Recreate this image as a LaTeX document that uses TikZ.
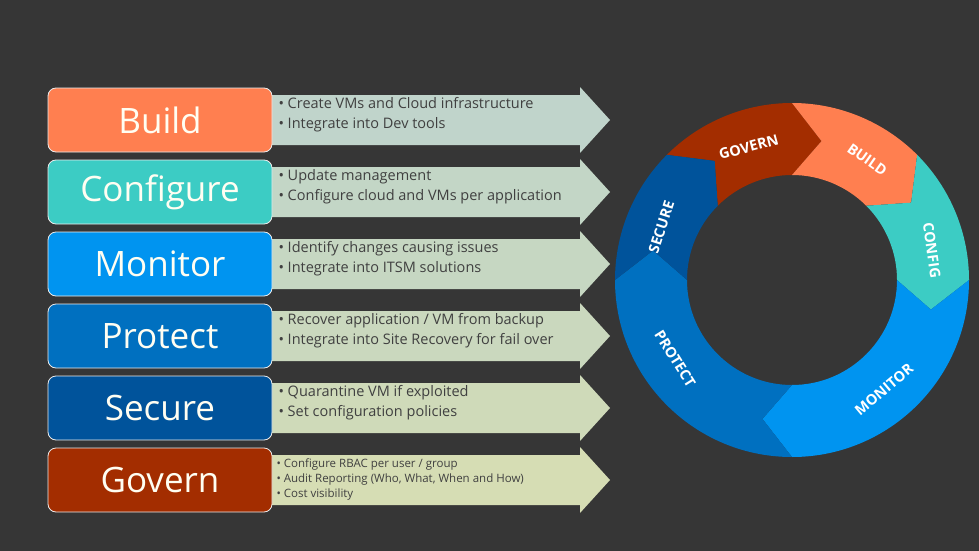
\documentclass[tikz,border=0pt]{standalone}
\usepackage{fontspec}
\setmainfont{Open Sans}
\begin{document}
\begin{tikzpicture}[x=1pt,y=-1pt,
  box/.style={draw=white!85!gray,line width=0.8pt,rounded corners=8pt,minimum width=224pt,minimum height=64pt,text=white!95!yellow,font=\fontsize{35}{38}\selectfont},
  bl/.style={anchor=west,align=left,text=black!75,font=\fontsize{14.5}{20}\selectfont},
  bls/.style={anchor=west,align=left,text=black!75,font=\fontsize{11.5}{15}\selectfont},
  rl/.style={text=white,font=\bfseries\fontsize{14.5}{15}\selectfont}]
\definecolor{bg}{HTML}{363636}
\definecolor{cBuild}{HTML}{FF7F50}
\definecolor{cConf}{HTML}{3CCCC4}
\definecolor{cMon}{HTML}{0094F0}
\definecolor{cProt}{HTML}{0070C0}
\definecolor{cSec}{HTML}{00539B}
\definecolor{cGov}{HTML}{A32D00}
\definecolor{a1}{HTML}{C0D4CB}
\definecolor{a2}{HTML}{C3D6C6}
\definecolor{a3}{HTML}{C6D7C2}
\definecolor{a4}{HTML}{CAD8BE}
\definecolor{a5}{HTML}{CFDAB9}
\definecolor{a6}{HTML}{D6DDB4}
\fill[bg] (0,0) rectangle (979,551);
% arrows
\foreach \i/\c in {0/a1,1/a2,2/a3,3/a4,4/a5,5/a6}{
  \pgfmathsetmacro{\yc}{120+72*\i}
  \fill[\c] (272,\yc-25) -- (580,\yc-25) -- (580,\yc-33) -- (610,\yc) -- (580,\yc+33) -- (580,\yc+25) -- (272,\yc+25) -- cycle;
}
% boxes
\node[box,fill=cBuild] (b1) at (160,120) {Build};
\node[box,fill=cConf] (b2) at (160,192) {Configure};
\node[box,fill=cMon] (b3) at (160,264) {Monitor};
\node[box,fill=cProt] (b4) at (160,336) {Protect};
\node[box,fill=cSec] (b5) at (160,408) {Secure};
\node[box,fill=cGov] (b6) at (160,480) {Govern};
% bullet texts
\node[bl] (t1) at (275,115) {• Create VMs and Cloud infrastructure\\• Integrate into Dev tools};
\node[bl] (t2) at (275,187) {• Update management\\• Configure cloud and VMs per application};
\node[bl] (t3) at (275,259) {• Identify changes causing issues\\• Integrate into ITSM solutions};
\node[bl] (t4) at (275,331) {• Recover application / VM from backup\\• Integrate into Site Recovery for fail over};
\node[bl] (t5) at (275,403) {• Quarantine VM if exploited\\• Set configuration policies};
\node[bls] (t6) at (273,479) {• Configure RBAC per user / group\\• Audit Reporting (Who, What, When and How)\\• Cost visibility};
% ring
\begin{scope}[shift={(792,280)},y=1pt]
\foreach \aa/\ab/\c in {135/90/cGov,90/45/cBuild,45/0/cConf,0/-90/cMon,-90/-180/cProt,180/135/cSec}{
  \fill[\c] (\aa:177) arc[start angle=\aa,end angle=\ab,radius=177] -- (\ab-12:142) -- (\ab:105)
    arc[start angle=\ab,end angle=\aa,radius=105] -- (\aa-12:142) -- cycle;
}
\node[rl,rotate=15] (g) at (108:140) {GOVERN};
\node[rl,rotate=-35] (bu) at (58:142) {BUILD};
\node[rl,rotate=-82] (co) at (12:143) {CONFIG};
\node[rl,rotate=40] (mo) at (-50:143) {MONITOR};
\node[rl,rotate=-58] (pr) at (-146:141) {PROTECT};
\node[rl,rotate=72] (se) at (158:141) {SECURE};
\end{scope}
\end{tikzpicture}
\end{document}
